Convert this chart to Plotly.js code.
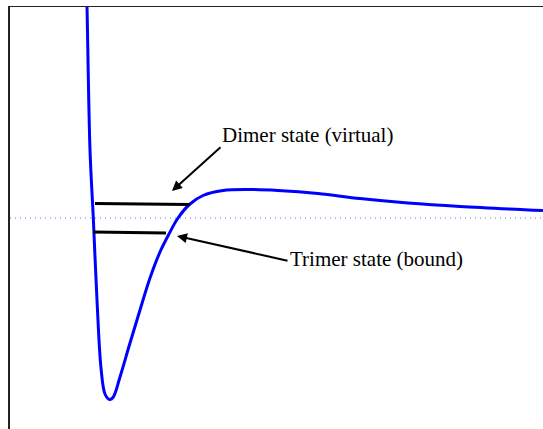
<!DOCTYPE html>
<html>
<head>
<meta charset="utf-8">
<script src="https://cdn.plot.ly/plotly-3.0.1.min.js"></script>
<style>
  html, body { margin: 0; padding: 0; overflow: hidden; background: #fff; }
  #chart { width: 543px; height: 429px; }
</style>
</head>
<body>
<div id="chart"></div>
<script>
// === Curva del potencial ===
const potX = [78.6, 79, 82, 85.3, 89, 93, 97, 101.5, 105, 112, 122, 132, 142, 152, 161, 170, 182, 195, 215, 240, 270, 310, 352, 400, 452, 535];
const potY = [223, 211, 68, 0, -82, -150, -176, -181.5, -179.5, -159, -125, -92, -60, -34, -16, 0, 14, 22.5, 27.5, 28.5, 27.5, 24.5, 19.5, 15, 11.5, 7.5];

// === Niveles de energía ===
const dimerX = [87, 182];
const dimerY = [14.5, 13.5];
const trimerX = [85, 158];
const trimerY = [-14, -15];

// === Línea de umbral ===
const zeroX = [2, 535];
const zeroY = [0, 0];

// === Etiquetas ===
const labels = ["Dimer state (virtual)", "Trimer state (bound)"];
const labelX = [212, 280];
const labelY = [83, -41];
const arrowHeadX = [164, 169];
const arrowHeadY = [27, -18];
const arrowTailX = [214, 281];
const arrowTailY = [72, -43];

const traces = [
  { x: zeroX, y: zeroY, mode: "lines", line: { color: "#6f6fff", width: 1, dash: "1px,4px" }, hoverinfo: "skip" },
  { x: potX, y: potY, mode: "lines", line: { color: "#0000ff", width: 3, shape: "spline", smoothing: 1 }, hoverinfo: "skip" },
  { x: dimerX, y: dimerY, mode: "lines", line: { color: "#000", width: 3 }, hoverinfo: "skip" },
  { x: trimerX, y: trimerY, mode: "lines", line: { color: "#000", width: 3 }, hoverinfo: "skip" }
];

const annotations = [];
labels.forEach((txt, i) => {
  annotations.push({
    x: labelX[i], y: labelY[i], xref: "x", yref: "y",
    text: txt, showarrow: false, xanchor: "left", yanchor: "middle",
    font: { family: "Liberation Serif, Times New Roman, serif", size: 21, color: "#000" }
  });
  annotations.push({
    x: arrowHeadX[i], y: arrowHeadY[i], xref: "x", yref: "y",
    ax: arrowTailX[i], ay: arrowTailY[i], axref: "x", ayref: "y",
    text: "", showarrow: true, arrowhead: 2, arrowsize: 1, arrowwidth: 2, arrowcolor: "#000"
  });
});

Plotly.newPlot("chart", traces, {
  width: 543,
  height: 429,
  margin: { l: 10, r: 0, t: 7, b: 0 },
  paper_bgcolor: "#fff",
  plot_bgcolor: "#fff",
  showlegend: false,
  xaxis: {
    range: [2, 535], side: "top", showline: true, linecolor: "#222", linewidth: 1.5,
    showgrid: false, zeroline: false, showticklabels: false, ticks: ""
  },
  yaxis: {
    range: [-211, 211], showline: true, linecolor: "#222", linewidth: 2,
    showgrid: false, zeroline: false, showticklabels: false, ticks: ""
  },
  annotations: annotations
}, { staticPlot: true });
</script>
</body>
</html>
